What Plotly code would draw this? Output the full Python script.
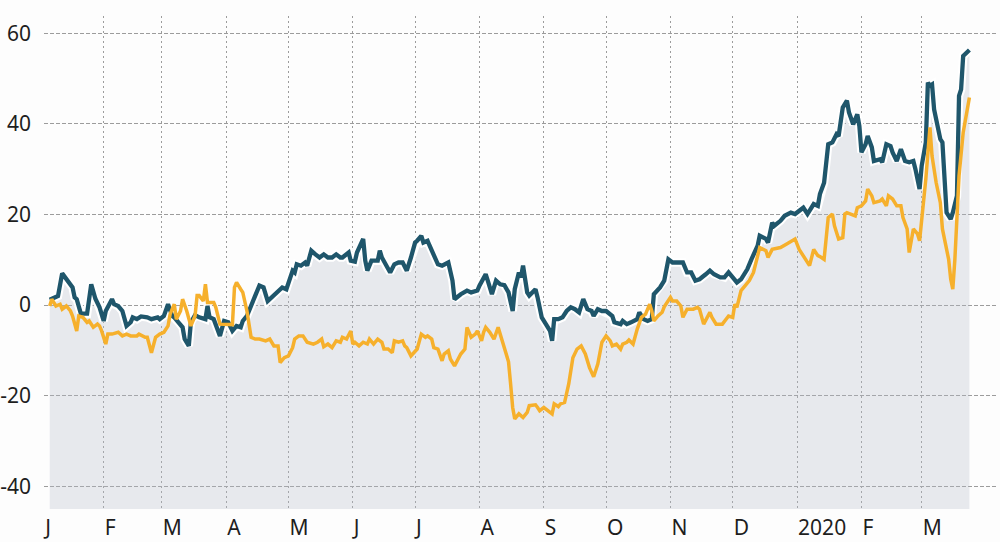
import plotly.graph_objects as go

# ---------------- data ----------------
dark_dates = [
    "2019-01-06", "2019-01-10", "2019-01-12", "2019-01-14", "2019-01-17", "2019-01-18", "2019-01-19",
    "2019-01-21", "2019-01-24", "2019-01-26", "2019-01-28", "2019-01-30", "2019-02-01", "2019-02-02",
    "2019-02-05", "2019-02-06", "2019-02-08", "2019-02-10", "2019-02-12", "2019-02-14", "2019-02-15",
    "2019-02-17", "2019-02-19", "2019-02-22", "2019-02-24", "2019-02-27", "2019-02-28", "2019-03-02",
    "2019-03-04", "2019-03-06", "2019-03-07", "2019-03-09", "2019-03-11", "2019-03-12", "2019-03-14",
    "2019-03-15", "2019-03-17", "2019-03-19", "2019-03-22", "2019-03-23", "2019-03-24", "2019-03-26",
    "2019-03-27", "2019-03-29", "2019-03-31", "2019-04-02", "2019-04-04", "2019-04-06", "2019-04-08",
    "2019-04-09", "2019-04-11", "2019-04-13", "2019-04-15", "2019-04-17", "2019-04-19", "2019-04-21",
    "2019-04-22", "2019-04-24", "2019-04-27", "2019-04-28", "2019-04-30", "2019-05-03", "2019-05-04",
    "2019-05-05", "2019-05-07", "2019-05-09", "2019-05-10", "2019-05-12", "2019-05-14", "2019-05-16",
    "2019-05-18", "2019-05-20", "2019-05-22", "2019-05-24", "2019-05-26", "2019-05-27", "2019-05-30",
    "2019-05-31", "2019-06-02", "2019-06-03", "2019-06-06", "2019-06-07", "2019-06-08", "2019-06-10",
    "2019-06-13", "2019-06-14", "2019-06-15", "2019-06-17", "2019-06-19", "2019-06-21", "2019-06-23",
    "2019-06-25", "2019-06-27", "2019-06-29", "2019-07-01", "2019-07-02", "2019-07-04", "2019-07-05",
    "2019-07-07", "2019-07-08", "2019-07-10", "2019-07-12", "2019-07-14", "2019-07-17", "2019-07-19",
    "2019-07-20", "2019-07-23", "2019-07-25", "2019-07-26", "2019-07-28", "2019-07-31", "2019-08-01",
    "2019-08-04", "2019-08-05", "2019-08-07", "2019-08-09", "2019-08-11", "2019-08-13", "2019-08-15",
    "2019-08-17", "2019-08-18", "2019-08-20", "2019-08-21", "2019-08-22", "2019-08-24", "2019-08-25",
    "2019-08-28", "2019-08-29", "2019-08-31", "2019-09-02", "2019-09-04", "2019-09-05", "2019-09-06",
    "2019-09-08", "2019-09-10", "2019-09-12", "2019-09-14", "2019-09-16", "2019-09-18", "2019-09-20",
    "2019-09-22", "2019-09-24", "2019-09-25", "2019-09-27", "2019-09-29", "2019-10-01", "2019-10-04",
    "2019-10-05", "2019-10-08", "2019-10-09", "2019-10-11", "2019-10-13", "2019-10-16", "2019-10-17",
    "2019-10-19", "2019-10-21", "2019-10-23", "2019-10-24", "2019-10-27", "2019-10-29", "2019-10-31",
    "2019-11-02", "2019-11-05", "2019-11-07", "2019-11-09", "2019-11-11", "2019-11-13", "2019-11-15",
    "2019-11-18", "2019-11-20", "2019-11-22", "2019-11-25", "2019-11-27", "2019-11-29", "2019-12-01",
    "2019-12-03", "2019-12-05", "2019-12-08", "2019-12-10", "2019-12-13", "2019-12-14", "2019-12-17",
    "2019-12-18", "2019-12-20", "2019-12-21", "2019-12-24", "2019-12-26", "2019-12-29", "2019-12-31",
    "2020-01-02", "2020-01-04", "2020-01-06", "2020-01-09", "2020-01-11", "2020-01-12", "2020-01-14",
    "2020-01-16", "2020-01-18", "2020-01-20", "2020-01-21", "2020-01-23", "2020-01-25", "2020-01-26",
    "2020-01-28", "2020-01-30", "2020-01-31", "2020-02-01", "2020-02-03", "2020-02-04", "2020-02-06",
    "2020-02-07", "2020-02-10", "2020-02-11", "2020-02-13", "2020-02-15", "2020-02-16", "2020-02-18",
    "2020-02-20", "2020-02-22", "2020-02-24", "2020-02-26", "2020-02-27", "2020-02-29", "2020-03-01",
    "2020-03-03", "2020-03-04", "2020-03-05", "2020-03-06", "2020-03-07", "2020-03-10", "2020-03-11",
    "2020-03-13", "2020-03-15", "2020-03-16", "2020-03-18", "2020-03-19", "2020-03-20", "2020-03-21",
    "2020-03-23", "2020-03-24",
]
dark_values = [
    1.2, 2.0, 7.0, 5.8, 3.9, 1.7, 1.3,
    -1.9, -1.9, 4.6, 1.4, -0.5, -3.5, -1.3,
    1.3, 0.2, -0.2, -1.3, -4.6, -3.8, -2.7,
    -3.1, -2.5, -2.7, -3.1, -2.7, -3.1, -2.4,
    0.2, -2.4, -2.7, -3.8, -4.9, -7.5, -9.0,
    -3.8, -2.2, -2.7, -3.1, -0.2, -2.7, -3.1,
    -4.2, -6.8, -3.5, -3.8, -5.7, -4.6, -4.9,
    -3.5, -2.4, 0.2, 2.1, 4.3, 3.9, 0.9,
    1.3, 2.1, 3.2, 3.9, 3.5, 7.6, 7.2,
    9.0, 8.7, 9.4, 8.7, 12.0, 11.2, 10.5,
    11.2, 10.5, 10.5, 11.2, 10.5, 10.5, 11.6,
    9.8, 9.6, 11.6, 14.6, 9.8, 7.6, 9.8,
    9.8, 12.0, 10.5, 8.7, 7.2, 9.0, 9.4,
    9.4, 7.6, 10.5, 13.8, 14.2, 15.3, 13.8,
    14.2, 13.1, 11.2, 9.0, 8.7, 9.4, 5.4,
    1.3, 2.4, 2.8, 3.2, 2.8, 3.2, 4.3,
    6.8, 5.4, 2.4, 5.4, 4.6, 4.4, 2.8,
    -1.3, 3.5, 7.2, 6.1, 8.7, 2.8, 2.1,
    3.5, 1.7, -2.7, -4.2, -5.7, -7.9, -3.1,
    -3.1, -2.7, -1.3, -0.5, -0.9, -1.6, 1.3,
    -0.9, -1.3, -2.4, -0.9, -1.3, -1.3, -2.4,
    -3.8, -4.2, -3.5, -4.2, -3.8, -3.1, -1.6,
    -3.1, -3.5, -3.1, 2.4, 3.9, 5.4, 10.1,
    9.4, 9.4, 9.4, 7.2, 7.2, 5.4, 5.7,
    6.8, 7.6, 6.8, 6.1, 6.1, 7.2, 6.1,
    5.0, 5.7, 7.9, 10.1, 13.1, 15.3, 14.6,
    13.8, 18.2, 17.5, 18.6, 19.7, 20.4, 20.1,
    20.8, 21.5, 20.1, 22.3, 21.9, 24.5, 27.0,
    35.5, 35.9, 37.7, 37.3, 43.6, 45.1, 42.5,
    39.9, 42.1, 39.5, 33.7, 35.5, 37.3, 34.8,
    31.8, 32.2, 31.5, 35.5, 35.1, 33.7, 31.8,
    34.4, 31.8, 31.5, 31.8, 30.0, 25.6, 30.7,
    35.9, 49.1, 48.4, 48.7, 43.2, 36.6, 35.9,
    20.4, 19.0, 20.4, 24.1, 46.2, 47.6, 55.0,
    55.7, 56.3,
]

yellow_dates = [
    "2019-01-06", "2019-01-07", "2019-01-09", "2019-01-11", "2019-01-12", "2019-01-14", "2019-01-16",
    "2019-01-17", "2019-01-19", "2019-01-20", "2019-01-22", "2019-01-24", "2019-01-25", "2019-01-27",
    "2019-01-29", "2019-01-30", "2019-01-31", "2019-02-02", "2019-02-03", "2019-02-05", "2019-02-08",
    "2019-02-10", "2019-02-12", "2019-02-14", "2019-02-17", "2019-02-18", "2019-02-21", "2019-02-22",
    "2019-02-24", "2019-02-26", "2019-02-28", "2019-03-02", "2019-03-04", "2019-03-05", "2019-03-07",
    "2019-03-08", "2019-03-10", "2019-03-11", "2019-03-13", "2019-03-15", "2019-03-17", "2019-03-18",
    "2019-03-19", "2019-03-21", "2019-03-22", "2019-03-23", "2019-03-26", "2019-03-27", "2019-03-29",
    "2019-04-01", "2019-04-04", "2019-04-05", "2019-04-06", "2019-04-08", "2019-04-09", "2019-04-11",
    "2019-04-13", "2019-04-15", "2019-04-17", "2019-04-20", "2019-04-22", "2019-04-24", "2019-04-26",
    "2019-04-27", "2019-04-29", "2019-05-01", "2019-05-03", "2019-05-04", "2019-05-06", "2019-05-08",
    "2019-05-10", "2019-05-13", "2019-05-15", "2019-05-17", "2019-05-18", "2019-05-20", "2019-05-22",
    "2019-05-24", "2019-05-26", "2019-05-27", "2019-05-29", "2019-05-31", "2019-06-01", "2019-06-02",
    "2019-06-03", "2019-06-04", "2019-06-06", "2019-06-08", "2019-06-09", "2019-06-11", "2019-06-13",
    "2019-06-15", "2019-06-16", "2019-06-18", "2019-06-20", "2019-06-21", "2019-06-23", "2019-06-25",
    "2019-06-26", "2019-06-27", "2019-06-29", "2019-07-02", "2019-07-04", "2019-07-06", "2019-07-07",
    "2019-07-09", "2019-07-10", "2019-07-12", "2019-07-14", "2019-07-15", "2019-07-17", "2019-07-18",
    "2019-07-20", "2019-07-22", "2019-07-23", "2019-07-25", "2019-07-26", "2019-07-28", "2019-07-30",
    "2019-07-31", "2019-08-02", "2019-08-03", "2019-08-04", "2019-08-06", "2019-08-07", "2019-08-08",
    "2019-08-10", "2019-08-12", "2019-08-13", "2019-08-15", "2019-08-16", "2019-08-17", "2019-08-18",
    "2019-08-19", "2019-08-20", "2019-08-22", "2019-08-24", "2019-08-25", "2019-08-28", "2019-08-29",
    "2019-08-30", "2019-09-01", "2019-09-03", "2019-09-05", "2019-09-06", "2019-09-08", "2019-09-09",
    "2019-09-11", "2019-09-13", "2019-09-15", "2019-09-17", "2019-09-19", "2019-09-21", "2019-09-23",
    "2019-09-25", "2019-09-27", "2019-09-29", "2019-10-01", "2019-10-03", "2019-10-04", "2019-10-06",
    "2019-10-08", "2019-10-09", "2019-10-11", "2019-10-12", "2019-10-14", "2019-10-16", "2019-10-18",
    "2019-10-20", "2019-10-22", "2019-10-23", "2019-10-24", "2019-10-26", "2019-10-28", "2019-10-29",
    "2019-11-01", "2019-11-02", "2019-11-04", "2019-11-06", "2019-11-07", "2019-11-09", "2019-11-12",
    "2019-11-14", "2019-11-15", "2019-11-17", "2019-11-20", "2019-11-21", "2019-11-23", "2019-11-26",
    "2019-11-27", "2019-11-29", "2019-12-01", "2019-12-02", "2019-12-03", "2019-12-05", "2019-12-07",
    "2019-12-09", "2019-12-11", "2019-12-13", "2019-12-14", "2019-12-17", "2019-12-18", "2019-12-20",
    "2019-12-24", "2019-12-27", "2019-12-31", "2020-01-02", "2020-01-05", "2020-01-07", "2020-01-09",
    "2020-01-11", "2020-01-12", "2020-01-14", "2020-01-16", "2020-01-18", "2020-01-19", "2020-01-21",
    "2020-01-23", "2020-01-24", "2020-01-25", "2020-01-27", "2020-01-29", "2020-01-30", "2020-02-01",
    "2020-02-03", "2020-02-04", "2020-02-06", "2020-02-07", "2020-02-10", "2020-02-11", "2020-02-13",
    "2020-02-14", "2020-02-16", "2020-02-18", "2020-02-20", "2020-02-21", "2020-02-23", "2020-02-24",
    "2020-02-26", "2020-02-28", "2020-02-29", "2020-03-01", "2020-03-03", "2020-03-05", "2020-03-06",
    "2020-03-08", "2020-03-10", "2020-03-11", "2020-03-14", "2020-03-15", "2020-03-16", "2020-03-17",
    "2020-03-18", "2020-03-19", "2020-03-21", "2020-03-24",
]
yellow_values = [
    -0.2, 1.3, -0.2, 0.2, -0.9, -0.2, -1.3,
    -2.4, -5.7, -2.4, -2.7, -3.8, -3.5, -4.9,
    -4.2, -4.6, -5.7, -8.6, -6.4, -6.4, -6.0,
    -6.8, -6.4, -6.8, -6.8, -6.4, -7.1, -7.1,
    -10.5, -7.1, -6.4, -6.0, -4.6, -2.0, 0.2,
    -3.1, -1.3, 1.3, -1.3, -4.6, -2.4, 2.1,
    2.1, 0.9, 4.6, 0.6, 0.6, -0.5, -4.2,
    -4.3, -4.3, 3.9, 5.0, 3.5, 2.8, -1.3,
    -7.1, -7.5, -7.5, -7.9, -7.5, -9.0, -9.0,
    -12.7, -11.6, -11.2, -9.4, -7.5, -6.8, -6.8,
    -8.2, -8.6, -8.2, -7.5, -9.2, -8.6, -9.4,
    -7.9, -8.2, -7.1, -7.5, -5.7, -8.6, -8.2,
    -8.6, -9.0, -8.2, -8.6, -7.5, -8.6, -7.5,
    -8.2, -9.7, -9.7, -10.5, -7.9, -8.2, -7.9,
    -9.0, -9.4, -11.2, -9.7, -6.4, -7.1, -6.8,
    -7.5, -9.4, -9.7, -12.3, -10.8, -10.1, -11.9,
    -13.4, -11.9, -10.8, -9.7, -4.9, -7.1, -6.4,
    -5.7, -7.9, -6.0, -4.9, -6.0, -6.8, -7.5,
    -4.9, -7.9, -9.9, -12.5, -17.4, -22.6, -25.1,
    -24.4, -24.0, -24.8, -23.7, -22.2, -22.0, -22.6,
    -23.3, -22.6, -23.3, -24.0, -21.8, -22.4, -21.8,
    -21.5, -17.4, -11.6, -9.7, -9.0, -10.8, -13.8,
    -15.8, -13.0, -8.2, -6.8, -7.9, -9.0, -8.6,
    -9.7, -8.6, -8.2, -7.7, -8.6, -5.3, -2.7,
    -2.0, 0.2, -1.3, -3.5, -2.4, -1.6, -0.4,
    1.7, 0.9, 0.9, -0.2, -2.7, -0.9, -0.9,
    -0.5, -0.9, -4.2, -1.6, -2.7, -4.2, -4.2,
    -3.5, -2.4, -2.7, 0.2, -0.5, 3.2, 4.3,
    5.4, 7.2, 10.5, 12.7, 12.0, 10.5, 12.3,
    12.7, 13.5, 14.6, 12.3, 10.1, 8.7, 12.3,
    10.9, 10.7, 10.1, 19.3, 20.1, 17.5, 14.6,
    14.9, 20.1, 20.4, 20.1, 19.7, 21.5, 21.9,
    23.0, 25.6, 24.1, 22.6, 23.0, 23.4, 21.9,
    24.1, 23.4, 21.9, 21.9, 19.3, 16.8, 11.6,
    16.8, 15.7, 14.2, 18.2, 27.8, 39.2, 32.9,
    27.0, 22.6, 16.8, 10.1, 5.7, 3.5, 10.1,
    19.0, 28.5, 38.1, 45.8,
]

month_ticks = [
    "2019-01-03 08:00", "2019-02-01", "2019-03-01", "2019-04-01", "2019-05-01", "2019-06-01",
    "2019-07-01", "2019-08-01", "2019-09-01", "2019-10-01", "2019-11-01", "2019-12-01",
    "2020-01-01", "2020-02-01", "2020-03-01",
]
month_labels = ["J", "F", "M", "A", "M", "J", "J", "A", "S", "O", "N", "D", "2020", "F", "M"]

y_ticks = [-40, -20, 0, 20, 40, 60]
y_labels = ["-40", "-20", "0", "20", "40", "60"]

FLOOR = -45  # bottom of the shaded area

# ---------------- styling ----------------
DARK = "#1f566b"
YELLOW = "#f6b02c"
FILL = "rgba(183,190,203,0.30)"
GRID = "#9c9c9c"
BG = "#fdfdfd"
FONT = "Noto Sans"
TXT = "#1e1e1e"
FS = 21

fig = go.Figure()

fig.add_trace(go.Scatter(
    x=dark_dates, y=[FLOOR] * len(dark_dates), mode="lines",
    line=dict(width=0, color="rgba(0,0,0,0)"), hoverinfo="skip", showlegend=False,
))
fig.add_trace(go.Scatter(
    x=dark_dates, y=dark_values, mode="lines", fill="tonexty", fillcolor=FILL,
    line=dict(width=0, color="rgba(0,0,0,0)"), hoverinfo="skip", showlegend=False,
))
fig.add_trace(go.Scatter(
    x=dark_dates, y=dark_values, mode="lines",
    line=dict(width=8.5, color="white"), hoverinfo="skip", showlegend=False,
))
fig.add_trace(go.Scatter(
    x=dark_dates, y=dark_values, mode="lines", name="Series A",
    line=dict(width=4.3, color=DARK), showlegend=False,
))
fig.add_trace(go.Scatter(
    x=yellow_dates, y=yellow_values, mode="lines", name="Series B",
    line=dict(width=3.5, color=YELLOW), showlegend=False,
))

fig.update_layout(
    width=1000, height=542,
    margin=dict(l=44, r=3, t=16, b=33, pad=0),
    paper_bgcolor=BG, plot_bgcolor=BG,
    font=dict(family=FONT, size=FS, color=TXT),
    showlegend=False,
    xaxis=dict(
        type="date", automargin=False,
        range=["2019-01-03 06:00", "2020-04-06 07:00"],
        tickmode="array", tickvals=month_ticks, ticktext=month_labels,
        ticklabelposition="outside right", ticklabelshift=1,
        ticks="", showgrid=True, gridcolor=GRID, gridwidth=1, griddash="2px,3px",
        zeroline=False, showline=False, ticklabelstandoff=4,
        tickfont=dict(family=FONT, size=FS, color=TXT),
    ),
    yaxis=dict(
        automargin=False,
        range=[-45, 63.8],
        tickmode="array", tickvals=y_ticks, ticktext=y_labels,
        ticks="", showgrid=True, gridcolor=GRID, gridwidth=1, griddash="4px,2px",
        zeroline=False, showline=False, ticklabelstandoff=12,
        tickfont=dict(family=FONT, size=FS, color=TXT),
    ),
)

fig.write_html(
    "out.html",
    config={"displayModeBar": False},
    post_script="document.body.style.margin='0';document.body.style.overflow='hidden';",
)
